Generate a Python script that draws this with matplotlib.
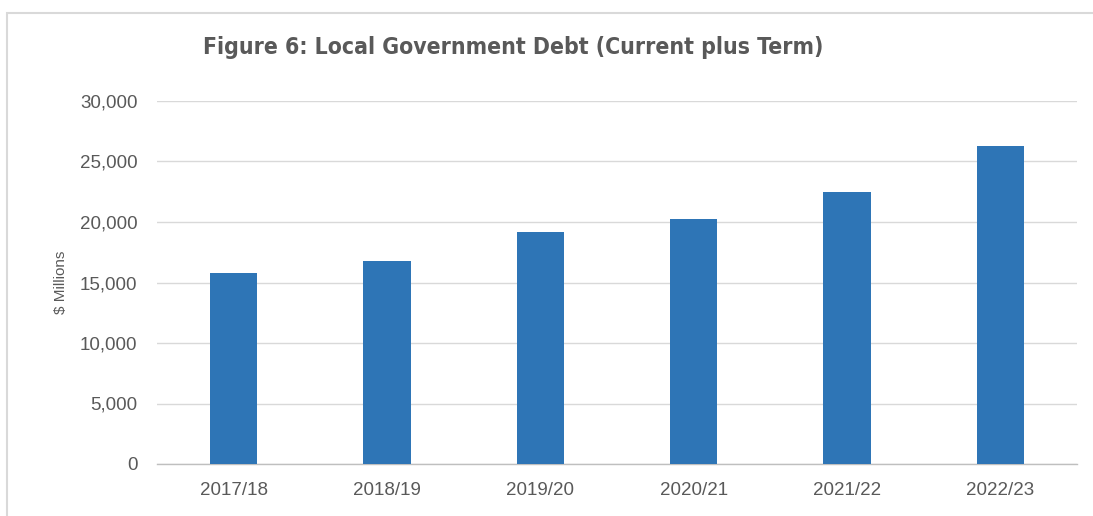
import matplotlib.pyplot as plt
from matplotlib.patches import Rectangle
from matplotlib.ticker import FuncFormatter

# Local government debt by financial year ($ millions)
years = ["2017/18", "2018/19", "2019/20", "2020/21", "2021/22", "2022/23"]
debt = [15750, 16770, 19200, 20230, 22500, 26300]

BAR = "#2E75B6"
TXT = "#595959"
GRID = "#D9D9D9"

plt.rcParams["font.family"] = ["Liberation Sans", "DejaVu Sans"]

fig = plt.figure(figsize=(10.93, 5.16), dpi=100)
ax = fig.add_axes([157 / 1093, 1 - 464 / 516, 920 / 1093, 363 / 516])

ax.bar(range(len(years)), debt, width=0.31, color=BAR, zorder=3)

ax.set_xlim(-0.5, len(years) - 0.5)
ax.set_ylim(0, 30000)
ax.set_yticks(range(0, 30001, 5000))
ax.yaxis.set_major_formatter(FuncFormatter(lambda v, p: f"{int(v):,}"))
ax.set_xticks(range(len(years)))
ax.set_xticklabels(years)

ax.grid(axis="y", color=GRID, linewidth=1, zorder=0)
for s in ["top", "right", "left"]:
    ax.spines[s].set_visible(False)
ax.spines["bottom"].set_color("#BFBFBF")
ax.spines["bottom"].set_linewidth(1)
ax.tick_params(axis="both", length=0, labelsize=13.5, labelcolor=TXT)
ax.tick_params(axis="y", pad=14)
ax.tick_params(axis="x", pad=13)

ax.set_ylabel("$ Millions", fontsize=11, color=TXT)
ax.yaxis.set_label_coords(-0.097, 0.5)

fig.text(513 / 1093, 1 - 48 / 516, "Figure 6: Local Government Debt (Current plus Term)",
         ha="center", va="center", fontsize=16.5, fontweight="bold", color=TXT,
         fontstretch="condensed", family=["DejaVu Sans"])

# outer chart frame, running off the right and bottom edges
fig.patches.append(Rectangle((7 / 1093, -0.1), 1.2, 1 - 13 / 516 + 0.1,
                             transform=fig.transFigure, fill=False,
                             edgecolor=GRID, linewidth=1.5))

fig.savefig("out.png", dpi=100)
